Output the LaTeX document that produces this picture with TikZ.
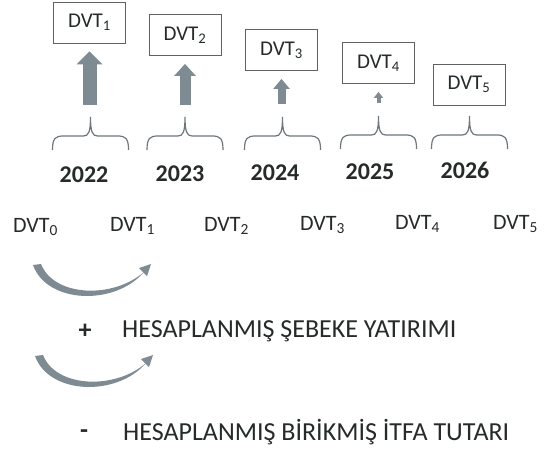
\documentclass[tikz,border=0pt]{standalone}
\usepackage{fontspec}
\setmainfont{Carlito}
\usetikzlibrary{arrows.meta}
\definecolor{okgri}{RGB}{127,139,146}
\definecolor{yazi}{RGB}{38,42,42}
\definecolor{cizgi}{RGB}{95,98,100}

\begin{document}
\begin{tikzpicture}[x=1pt, y=-1pt]
	\tikzset{kutu/.style={draw=cizgi, line width=0.8pt, minimum width=72pt, minimum height=41pt, inner sep=0pt, text=yazi, font=\fontsize{21}{24}\selectfont},
		blok/.style n args={3}{draw=okgri, line width=#1, shorten >=8pt, -{Triangle[width=#2, length=#3]}},
		yil/.style={anchor=base, inner sep=0pt, text=yazi, font=\fontsize{24}{28}\selectfont\bfseries},
		etiket/.style={anchor=base west, inner sep=0pt, text=yazi, font=\fontsize{22}{26}\selectfont},
		aciklama/.style={anchor=base west, inner sep=0pt, text=yazi, font=\fontsize{26}{30}\selectfont},
		isaret/.style={inner sep=0pt, text=yazi, font=\fontsize{26}{30}\selectfont\bfseries},
		akolad/.pic={\draw[okgri!85!black, line width=1.2pt] (-38,33) .. controls (-38,21) and (-35,19) .. (-27,19) -- (-7,19) .. controls (-2,19) and (0,15) .. (0,0) .. controls (0,15) and (2,19) .. (7,19) -- (27,19) .. controls (35,19) and (38,21) .. (38,33);},
		donus/.pic={\fill[okgri] (0,0) .. controls (14,39) and (82,41) .. (111,7) .. controls (80,34) and (21,32) .. (8,-1) -- cycle;
			\fill[okgri] (118,-1) -- (106,3) -- (114,11) -- cycle;}};
	\useasboundingbox (0,0) rectangle (545,452);

	\node[kutu] (k1) at ( 89.5, 22.5) {DVT\textsubscript{1}};
	\node[kutu] (k2) at (185  , 35  ) {DVT\textsubscript{2}};
	\node[kutu] (k3) at (281.5, 50  ) {DVT\textsubscript{3}};
	\node[kutu] (k4) at (378.5, 63  ) {DVT\textsubscript{4}};
	\node[kutu] (k5) at (469  , 84.5) {DVT\textsubscript{5}};

	\coordinate (t1) at ( 89.5, 105);
	\coordinate (t2) at (185  , 105);
	\coordinate (t3) at (281.5, 104);
	\coordinate (t4) at (378.5, 103);

	\draw[blok={14pt}{25pt}{13pt}] (t1) -- (k1);
	\draw[blok={11pt}{21pt}{12pt}] (t2) -- (k2);
	\draw[blok={8pt}{16pt}{10pt}] (t3) -- (k3);
	\draw[blok={4pt}{9pt}{6pt}] (t4) -- (k4);

	\pic at ( 90.5, 117) {akolad};
	\pic at (185  , 117) {akolad};
	\pic at (282.5, 117) {akolad};
	\pic at (378.5, 116) {akolad};
	\pic at (469.5, 116) {akolad};

	\node[yil] (y1) at ( 84, 182) {2022};
	\node[yil] (y2) at (180, 181) {2023};
	\node[yil] (y3) at (275, 180) {2024};
	\node[yil] (y4) at (370, 179) {2025};
	\node[yil] (y5) at (465, 178) {2026};

	\node[etiket] (d0) at ( 13, 232) {DVT\textsubscript{0}};
	\node[etiket] (d1) at (110, 231) {DVT\textsubscript{1}};
	\node[etiket] (d2) at (204, 231) {DVT\textsubscript{2}};
	\node[etiket] (d3) at (300, 230) {DVT\textsubscript{3}};
	\node[etiket] (d4) at (395, 229) {DVT\textsubscript{4}};
	\node[etiket] (d5) at (493, 229) {DVT\textsubscript{5}};

	\pic at (33, 265) {donus};
	\pic at (35, 356) {donus};

	\node[isaret] (arti) at (85, 331) {+};
	\node[aciklama] (yatirim) at (122, 337) {HESAPLANMIŞ ŞEBEKE YATIRIMI};
	\node[isaret] (eksi) at (84, 434) {-};
	\node[aciklama] (itfa) at (123, 440) {HESAPLANMIŞ BİRİKMİŞ İTFA TUTARI};

\end{tikzpicture}
\end{document}
